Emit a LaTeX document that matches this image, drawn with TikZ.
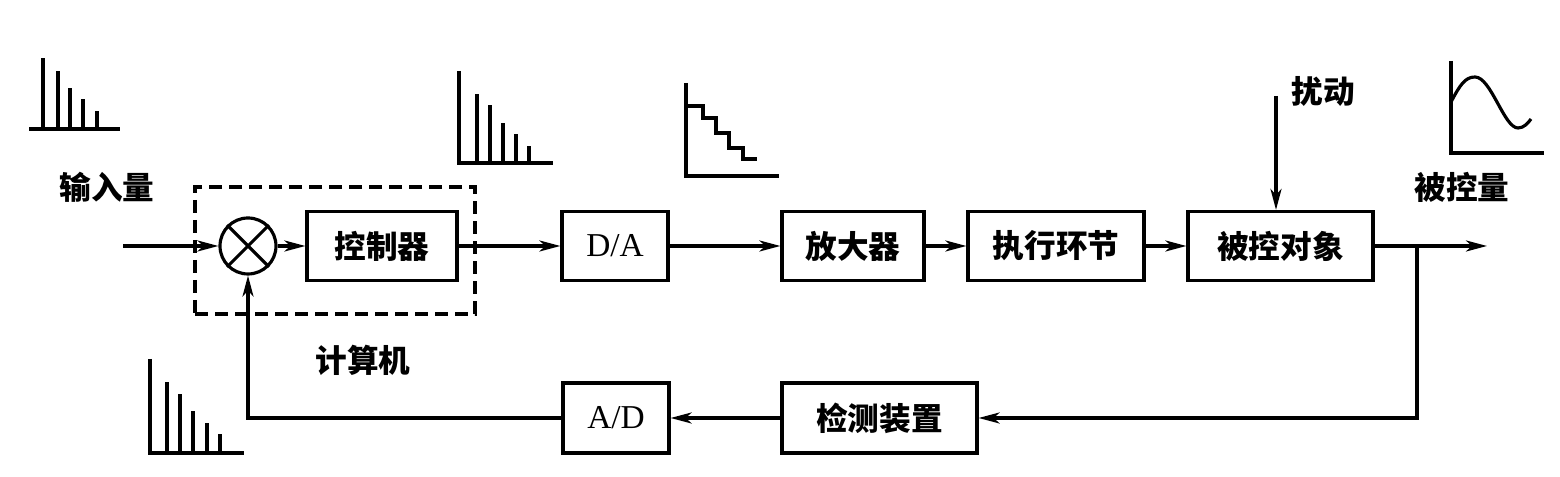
\documentclass[tikz,border=0pt]{standalone}
\usepackage{fontspec}
\setmainfont{Liberation Serif}
\newfontfamily\cjk{Noto Sans CJK SC}
\usetikzlibrary{arrows.meta,positioning}

\begin{document}
\begin{tikzpicture}[x=0.1mm,y=-0.1mm,node distance=2cm,on grid,line width=0.9pt,
       >={Stealth[length=2.1mm,width=1.1mm,inset=0.6mm]}]
       \tikzstyle{block}=[draw,rectangle,minimum height=0.69cm,inner sep=0pt,
              font=\cjk\bfseries\fontsize{9pt}{11pt}\selectfont]
       \tikzstyle{conv}=[block,minimum width=1.06cm,font=\fontsize{9.5pt}{11pt}\selectfont]
       \tikzstyle{lbl}=[font=\cjk\bfseries\fontsize{9pt}{11pt}\selectfont]
       \useasboundingbox (0,0) rectangle (1560,477);

       \node[draw,circle,minimum size=0.56cm,inner sep=0pt] (sum) at (248,246) {};
       \draw (sum.north east) -- (sum.south west) (sum.north west) -- (sum.south east);
       \node[block,minimum width=1.5cm] (ctrl) [right=1.34cm of sum] {控制器};
       \node[conv] (da) [right=2.33cm of ctrl] {D/A};
       \node[block,minimum width=1.42cm] (amp) [right=2.38cm of da] {放大器};
       \node[block,minimum width=1.76cm] (act) [right=2.03cm of amp] {执行环节};
       \node[block,minimum width=1.85cm] (plant) [right=2.245cm of act] {被控对象};
       \node[block,minimum width=1.95cm,minimum height=0.7cm] (meas) [below right=1.72cm and 0.265cm of amp] {检测装置};
       \node[conv,minimum height=0.7cm] (ad) [left=2.635cm of meas] {A/D};

       % computer boundary
       \node[draw,dash pattern=on 1.3mm off 0.7mm,minimum width=2.8cm,minimum height=1.27cm] (comp) at (335,250.5) {};

       \node[lbl] (in_lbl) at (107,187) {输入量};
       \node[lbl] (comp_lbl) at (363,360) {计算机};
       \node[lbl] (dist_lbl) at (1323,91) {扰动};
       \node[lbl] (out_lbl) at (1462,187) {被控量};

       \coordinate (in) at (123,246);
       \coordinate (out) at (1487,246);
       \coordinate (tap) at (1417,246);
       \coordinate (dist) at (1276,96);

       \path[->]
       (in) edge (sum)
       (sum) edge (ctrl)
       (ctrl) edge (da)
       (da) edge (amp)
       (amp) edge (act)
       (act) edge (plant)
       (plant) edge (out)
       (meas) edge (ad)
       (dist) edge (dist |- plant.north);
       \draw[->] (tap) |- (meas);
       \draw[->] (ad) -| (sum);

       % signal sketches
       \draw (29,129) -- (120,129);
       \foreach \x/\h in {43/58,58/71,70/88,83/99,97/111}
              \draw (\x,129) -- (\x,\h);
       \draw (459,71) -- (459,163) -- (553,163);
       \foreach \x/\h in {477/94,490/105,503/123,516/134,529/146}
              \draw (\x,163) -- (\x,\h);
       \draw (150,359) -- (150,453) -- (244,453);
       \foreach \x/\h in {167/382,180/394,193/411,207/423,220/434}
              \draw (\x,453) -- (\x,\h);
       \draw (686,83) -- (686,176) -- (779,176);
       \draw (686,106) -- (703,106) |- (716,118) |- (729,133) |- (743,148) |- (757,159);
       \draw (1451,61) -- (1451,153) -- (1544,153);
       \draw (1451,102) .. controls (1460,85) and (1465,77) .. (1475,77)
              .. controls (1491,77) and (1504,128) .. (1518,128)
              .. controls (1524,128) and (1528,123) .. (1531,119);

     \end{tikzpicture}
\end{document}
